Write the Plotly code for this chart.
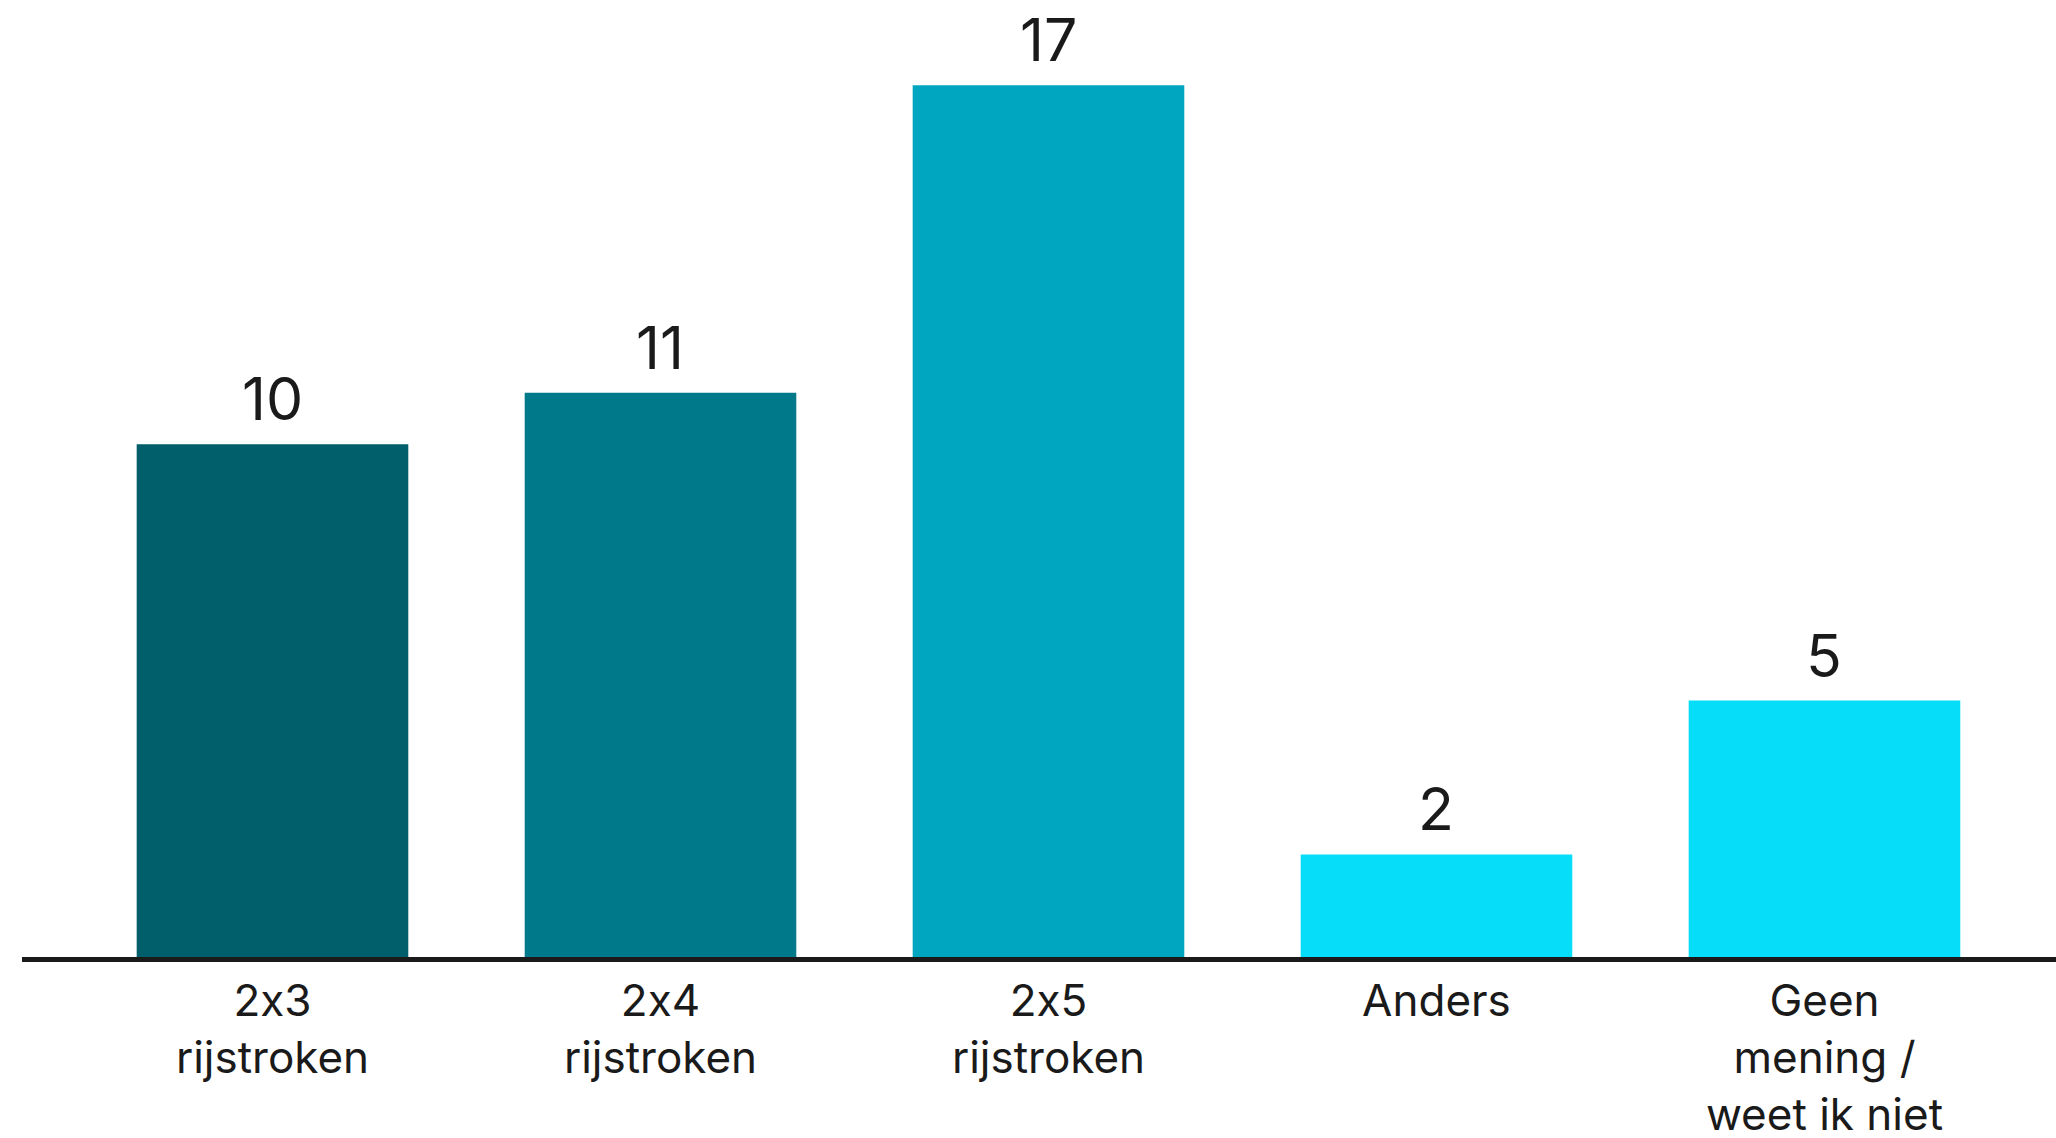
import plotly.graph_objects as go

categories = ["2x3<br>rijstroken", "2x4<br>rijstroken", "2x5<br>rijstroken", "Anders",
              "Geen<br>mening /<br>weet ik niet"]
values = [10, 11, 17, 2, 5]
colors = ["#015E6B", "#00798A", "#00A6C0", "#05DDF9", "#05DDF9"]

xpos = list(range(len(categories)))

fig = go.Figure()
fig.add_trace(go.Bar(
    x=xpos,
    y=values,
    marker=dict(color=colors, line=dict(width=0)),
    cliponaxis=False,
    width=0.70,
    hoverinfo="skip",
))

for xi, v in zip(xpos, values):
    fig.add_annotation(
        x=xi, y=v, xref="x", yref="y",
        text=str(v), showarrow=False,
        yanchor="bottom", yshift=8,
        font=dict(family="Inter", size=59, color="#1a1a1a"),
    )

fig.update_layout(
    width=2056, height=1138,
    margin=dict(l=22, r=0, t=20, b=181, pad=0, autoexpand=False),
    paper_bgcolor="white", plot_bgcolor="white",
    showlegend=False,
    font=dict(family="Inter", color="#1a1a1a"),
    xaxis=dict(
        range=[-0.6456, 4.5967],
        tickmode="array",
        tickvals=xpos,
        ticktext=categories,
        tickfont=dict(family="Inter", size=44, color="#1a1a1a"),
        showline=True, linecolor="#1a1a1a", linewidth=5,
        ticks="", showgrid=False, zeroline=False,
        ticklabelstandoff=1,
        automargin=False,
        fixedrange=True,
    ),
    yaxis=dict(
        range=[0, 18.27],
        visible=False,
        showgrid=False, zeroline=False,
        automargin=False,
        fixedrange=True,
    ),
)

post = """
document.body.style.margin = '0';
var st = document.createElement('style');
st.textContent = '.main-svg text { font-feature-settings: "calt" 0, "liga" 0; font-variant-ligatures: none; }';
document.head.appendChild(st);
"""

fig.write_html("out.html", post_script=post, config={"displayModeBar": False})
